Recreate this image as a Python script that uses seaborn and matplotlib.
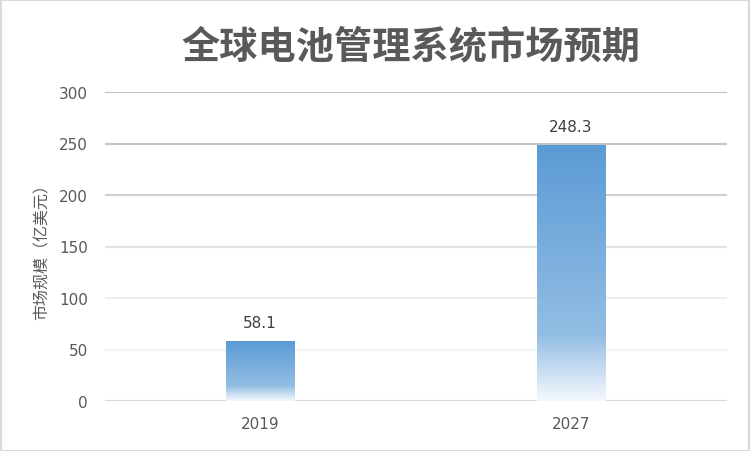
import numpy as np
import pandas as pd
import matplotlib.pyplot as plt
import seaborn as sns
from matplotlib.colors import LinearSegmentedColormap
from matplotlib.patches import Rectangle

# 数据
years = ["2019", "2027"]
market_size = [58.1, 248.3]
y_ticks = [0, 50, 100, 150, 200, 250, 300]

title = "全球电池管理系统市场预期"
y_label = "市场规模（亿美元）"

df = pd.DataFrame({"year": years, "size": market_size})

sns.set_style("white")
plt.rcParams["font.family"] = ["Noto Sans CJK SC", "DejaVu Sans"]

fig = plt.figure(figsize=(7.51, 4.52), dpi=100)
ax = fig.add_axes([104.5 / 751, 1 - 402 / 452, 622 / 751, 309 / 452])

sns.barplot(data=df, x="year", y="size", ax=ax, width=0.22, color="#5b9bd5")

# 渐变填充
grad_cmap = LinearSegmentedColormap.from_list(
    "bar_grad", [(0.0, "#f4f8fd"), (0.26, "#92bde4"), (1.0, "#5b9bd5")])
grad = np.linspace(0, 1, 256).reshape(-1, 1)
for p in ax.patches:
    x0, y0 = p.get_x(), p.get_y()
    w, h = p.get_width(), p.get_height()
    p.set_facecolor("none")
    p.set_edgecolor("none")
    im = ax.imshow(grad, cmap=grad_cmap, origin="lower", aspect="auto",
                   extent=[x0, x0 + w, y0, y0 + h], zorder=2, interpolation="bilinear")
    clip = Rectangle((x0, y0), w, h, transform=ax.transData)
    im.set_clip_path(clip)
ax.set_xlim(-0.5, 1.5)
ax.set_ylim(0, 300)

# 网格线（上深下浅）
grid_colors = ["#d9d9d9", "#f2f2f2", "#eeeeee", "#e2e2e2", "#d0d0d0", "#c4c4c4", "#c0c0c0"]
for t, c in zip(y_ticks, grid_colors):
    ax.axhline(t, color=c, lw=1.5, zorder=1)

for s in ax.spines.values():
    s.set_visible(False)

num_font = "DejaVu Sans"
ax.set_yticks(y_ticks)
ax.tick_params(axis="both", length=0, labelsize=11, labelcolor="#595959")
ax.tick_params(axis="y", pad=12)
ax.tick_params(axis="x", pad=11)
for lbl in ax.get_xticklabels() + ax.get_yticklabels():
    lbl.set_fontfamily(num_font)
ax.set_xlabel("")
ax.set_ylabel(y_label, fontsize=11.5, color="#595959", labelpad=6)

for i, v in enumerate(market_size):
    ax.annotate(f"{v}", (i, v), xytext=(0, 8), textcoords="offset points",
                ha="center", va="bottom", fontsize=11, color="#404040",
                fontfamily=num_font)

fig.text(411 / 751, 1 - 47 / 452, title, ha="center", va="center",
         fontsize=27.5, fontweight="bold", color="#595959")

# 外边框
fig.patches.append(Rectangle((0.001, 0.001), 0.997, 0.997, transform=fig.transFigure,
                             fill=False, edgecolor="#d9d9d9", lw=1.5))

fig.savefig("out.png", dpi=100, facecolor="white")
